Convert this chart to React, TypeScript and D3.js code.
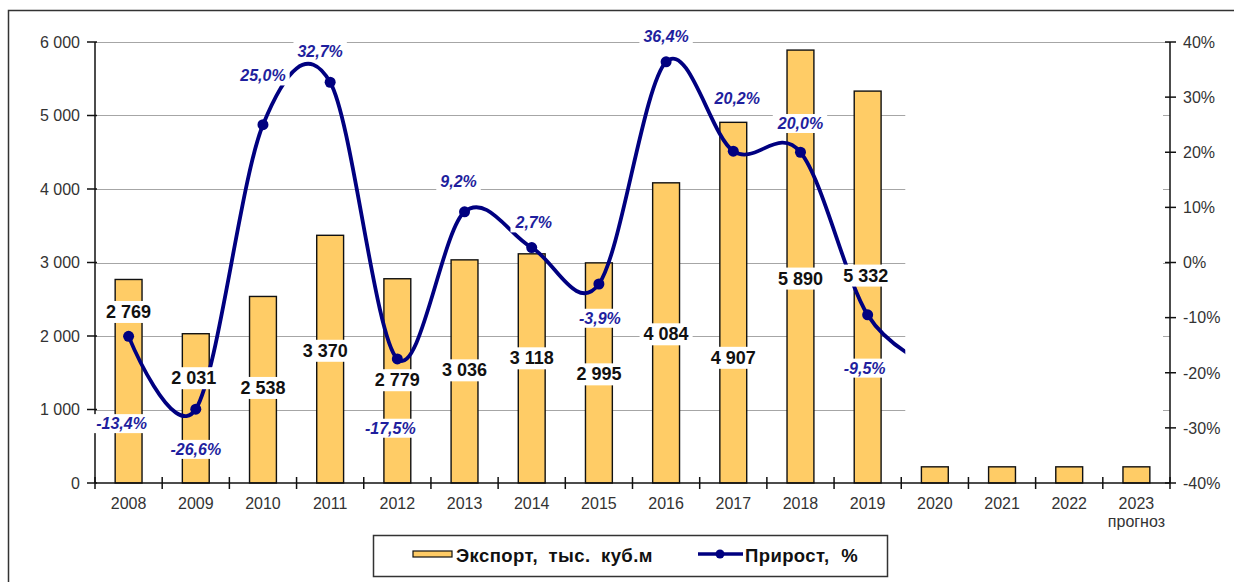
import React, { useEffect, useRef } from 'react';
import * as d3 from 'd3';

// ---- data ----
const years = ['2008', '2009', '2010', '2011', '2012', '2013', '2014', '2015', '2016', '2017', '2018', '2019', '2020', '2021', '2022', '2023'];
const exportVolume = [2769, 2031, 2538, 3370, 2779, 3036, 3118, 2995, 4084, 4907, 5890, 5332, 220, 220, 220, 220];
// growth, %; the 2020 value is only seen as the start of the cut-off curve
const growth = [-13.4, -26.6, 25.0, 32.7, -17.5, 9.2, 2.7, -3.9, 36.4, 20.2, 20.0, -9.5, -19];
const labeledCount = 12;
const leftTicks = [0, 1000, 2000, 3000, 4000, 5000, 6000];
const rightTicks = [-40, -30, -20, -10, 0, 10, 20, 30, 40];
const forecastNote = 'прогноз';
const legendBar = 'Экспорт, тыс. куб.м';
const legendLine = 'Прирост, %';

// ---- label placement (manual, like in the source chart) ----
const valueLabelDy = [32, 44, 91, 115, 101, 110, 104, 111, 151, 235, 228, 184];
const valueLabelDx = [0, -2, 0, -5, 0, 0, 0, 0, 0, 0, 0, -2];
const growthLabelDx = [-7, 0, 0, -10, -7, -6, 2, 1, 0, 4, 0, -3];
const growthLabelDy = [87, 40, -49, -31, 69, -31, -25, 34, -26, -53, -29, 53];

const W = 1234;
const H = 582;
const FONT = '"Liberation Sans", Arial, sans-serif';

const loc = d3.formatLocale({ decimal: ',', thousands: '\u00a0', grouping: [3], currency: ['', ''], minus: '-' });
const fmtInt = loc.format(',d');
const fmtPct = loc.format('.1f');

export default function App() {
  const ref = useRef<SVGSVGElement>(null);

  useEffect(() => {
    if (!ref.current) return;
    const svg = d3.select(ref.current);
    svg.selectAll('*').remove();

    const left = 95, right = 1170, top = 42, bottom = 483;

    const x = d3.scaleBand<string>().domain(years).range([left, right]).paddingInner(0.6).paddingOuter(0.3);
    const step = x.step();
    const bw = x.bandwidth();
    const cx = (i: number) => (x(years[i]) as number) + bw / 2;
    const yL = d3.scaleLinear().domain([0, 6000]).range([bottom, top]);
    const yR = d3.scaleLinear().domain([-40, 40]).range([bottom, top]);

    // the area right of this was wiped in the source picture
    const cutX = cx(11) + step * 0.56;

    // outer frame
    svg.append('rect')
      .attr('x', 8.5).attr('y', 10.5).attr('width', W + 20).attr('height', H + 20)
      .attr('fill', '#fff').attr('stroke', '#333').attr('stroke-width', 1.5);

    const defs = svg.append('defs');
    defs.append('clipPath').attr('id', 'cut')
      .append('rect').attr('x', 0).attr('y', 0).attr('width', cutX).attr('height', H);

    // grid
    const grid = svg.append('g').attr('stroke', '#a6a6a6').attr('stroke-width', 1);
    leftTicks.filter(t => t > 0).forEach(t => {
      const y = Math.round(yL(t)) + 0.5;
      if (t === 6000) {
        grid.append('line').attr('x1', left).attr('x2', right).attr('y1', y).attr('y2', y);
      } else {
        grid.append('line').attr('x1', left).attr('x2', cutX).attr('y1', y).attr('y2', y);
        grid.append('line').attr('x1', right - 7).attr('x2', right).attr('y1', y).attr('y2', y);
      }
    });

    // bars
    svg.append('g').selectAll('rect').data(exportVolume).join('rect')
      .attr('x', (_, i) => x(years[i]) as number)
      .attr('y', d => yL(d))
      .attr('width', bw)
      .attr('height', d => bottom - yL(d))
      .attr('fill', '#FFCC66')
      .attr('stroke', '#111')
      .attr('stroke-width', 1.4);

    // axes
    const ax = svg.append('g').attr('stroke', '#111').attr('stroke-width', 1.5);
    ax.append('line').attr('x1', left).attr('x2', left).attr('y1', top).attr('y2', bottom);
    ax.append('line').attr('x1', right).attr('x2', right).attr('y1', top).attr('y2', bottom);
    ax.append('line').attr('x1', left).attr('x2', right).attr('y1', bottom).attr('y2', bottom);
    leftTicks.forEach(t => {
      ax.append('line').attr('x1', left - 8).attr('x2', left + 2).attr('y1', yL(t)).attr('y2', yL(t));
    });
    rightTicks.forEach(t => {
      ax.append('line').attr('x1', right - 5).attr('x2', right + 6).attr('y1', yR(t)).attr('y2', yR(t));
    });
    d3.range(years.length + 1).forEach(i => {
      const bx = left + i * step;
      ax.append('line').attr('x1', bx).attr('x2', bx).attr('y1', bottom - 6).attr('y2', bottom + 6);
    });

    const txt = svg.append('g').attr('font-family', FONT).attr('fill', '#333');
    leftTicks.forEach(t => {
      txt.append('text').attr('x', left - 15).attr('y', yL(t)).attr('dy', '0.36em')
        .attr('text-anchor', 'end').attr('font-size', 16).text(fmtInt(t));
    });
    rightTicks.forEach(t => {
      txt.append('text').attr('x', right + 13).attr('y', yR(t)).attr('dy', '0.36em')
        .attr('font-size', 16).text(`${t}%`);
    });
    years.forEach((yr, i) => {
      txt.append('text').attr('x', cx(i)).attr('y', bottom + 20).attr('dy', '0.36em')
        .attr('text-anchor', 'middle').attr('font-size', 16).text(yr);
    });
    txt.append('text').attr('x', cx(years.length - 1)).attr('y', bottom + 38).attr('dy', '0.36em')
      .attr('text-anchor', 'middle').attr('font-size', 16).text(forecastNote);

    // growth line
    const line = d3.line<number>()
      .x((_, i) => cx(i))
      .y(d => yR(d))
      .curve(d3.curveCatmullRom.alpha(0));
    svg.append('path')
      .datum(growth)
      .attr('clip-path', 'url(#cut)')
      .attr('fill', 'none')
      .attr('stroke', '#000080')
      .attr('stroke-width', 3.8)
      .attr('d', line);
    svg.append('g').selectAll('circle').data(growth.slice(0, labeledCount)).join('circle')
      .attr('cx', (_, i) => cx(i))
      .attr('cy', d => yR(d))
      .attr('r', 5.5)
      .attr('fill', '#000080');

    // labels with white boxes
    const boxed = (g: d3.Selection<SVGGElement, unknown, null, undefined>, tx: number, ty: number, s: string, style: (t: d3.Selection<SVGTextElement, unknown, null, undefined>) => void) => {
      const grp = g.append('g');
      const rect = grp.append('rect').attr('fill', '#fff');
      const t = grp.append('text').attr('x', tx).attr('y', ty).attr('dy', '0.36em')
        .attr('text-anchor', 'middle').attr('font-family', FONT).text(s);
      style(t);
      const b = (t.node() as SVGTextElement).getBBox();
      rect.attr('x', b.x - 4).attr('y', b.y - 1).attr('width', b.width + 8).attr('height', b.height + 2);
    };

    const lab = svg.append('g');
    exportVolume.slice(0, labeledCount).forEach((v, i) => {
      boxed(lab, cx(i) + valueLabelDx[i], yL(v) + valueLabelDy[i], fmtInt(v), t =>
        t.attr('font-size', 18).attr('font-weight', 'bold').attr('fill', '#111'));
    });
    growth.slice(0, labeledCount).forEach((v, i) => {
      boxed(lab, cx(i) + growthLabelDx[i], yR(v) + growthLabelDy[i], `${fmtPct(v)}%`, t =>
        t.attr('font-size', 16).attr('font-weight', 'bold').attr('font-style', 'italic').attr('fill', '#1f1f9e'));
    });

    // legend
    const lg = svg.append('g').attr('font-family', FONT);
    lg.append('rect').attr('x', 373.5).attr('y', 535.5).attr('width', 514).attr('height', 41)
      .attr('fill', '#fff').attr('stroke', '#333').attr('stroke-width', 1.5);
    lg.append('rect').attr('x', 413).attr('y', 551).attr('width', 39).attr('height', 6)
      .attr('fill', '#FFCC66').attr('stroke', '#111').attr('stroke-width', 1.2);
    lg.append('text').attr('x', 456).attr('y', 555).attr('dy', '0.36em')
      .attr('font-size', 18.5).attr('font-weight', 'bold').attr('fill', '#111')
      .attr('letter-spacing', 0.4).attr('word-spacing', 5).text(legendBar);
    lg.append('line').attr('x1', 698).attr('x2', 743).attr('y1', 554).attr('y2', 554)
      .attr('stroke', '#000080').attr('stroke-width', 3.6);
    lg.append('circle').attr('cx', 720).attr('cy', 554).attr('r', 4.5).attr('fill', '#000080');
    lg.append('text').attr('x', 745).attr('y', 555).attr('dy', '0.36em')
      .attr('font-size', 18.5).attr('font-weight', 'bold').attr('fill', '#111')
      .attr('letter-spacing', 0.4).attr('word-spacing', 6).text(legendLine);
  }, []);

  return (
    <svg ref={ref} width={W} height={H} viewBox={`0 0 ${W} ${H}`}
      style={{ position: 'absolute', left: 0, top: 0, background: '#fff' }} />
  );
}
